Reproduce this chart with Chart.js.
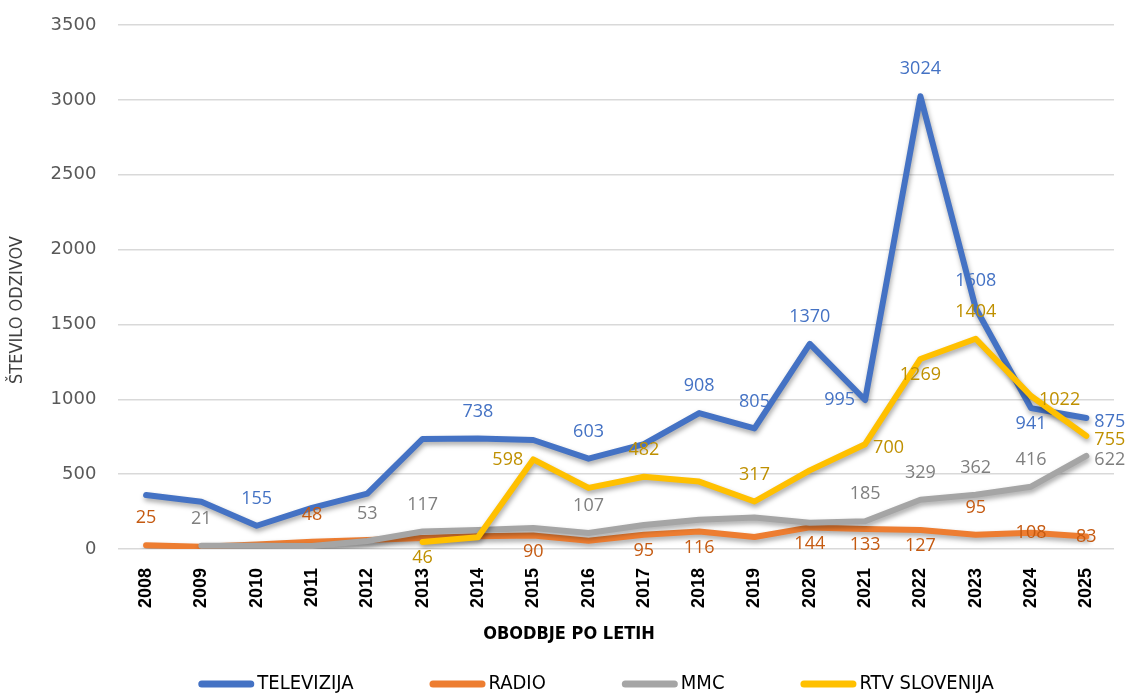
<!DOCTYPE html>
<html>
<head>
<meta charset="utf-8">
<script src="https://cdn.jsdelivr.net/npm/chart.js@4.4.1/dist/chart.umd.min.js"></script>
<style>
  html, body { margin: 0; padding: 0; background: #fff; }
  #wrap { width: 1132px; height: 693px; position: relative; }
</style>
</head>
<body>
<div id="wrap"><canvas id="graf"></canvas></div>
<script>
// ===== Podatki =====
const leta = ['2008','2009','2010','2011','2012','2013','2014','2015','2016','2017','2018','2019','2020','2021','2022','2023','2024','2025'];
const televizija = [360, 315, 155, 275, 370, 735, 738, 728, 603, 700, 908, 805, 1370, 995, 3024, 1608, 941, 875];
const radio      = [25, 15, 30, 48, 60, 74, 85, 90, 55, 95, 116, 80, 144, 133, 127, 95, 108, 83];
const mmc        = [null, 21, 22, 20, 53, 117, 127, 140, 107, 160, 195, 210, 175, 185, 329, 362, 416, 622];
const rtv        = [null, null, null, null, null, 46, 78, 598, 408, 482, 450, 317, 525, 700, 1269, 1404, 1022, 755];
const yTicks     = [0, 500, 1000, 1500, 2000, 2500, 3000, 3500];
const naslovX = 'OBODBJE PO LETIH';
const naslovY = 'ŠTEVILO ODZIVOV';

// kje stoji oznaka vrednosti: a = nad, b = pod, l = levo, r = desno, c = na točki, '' = brez
const posTV  = ['', '', 'a', '', '', '', 'a', '', 'a', '', 'a', 'a', 'a', 'l', 'a', 'a', 'b', 'r'];
const posRad = ['a', '', '', 'a', '', '', '', 'b', '', 'b', 'b', '', 'b', 'b', 'b', 'a', 'c', 'c'];
const posMMC = ['', 'a', '', '', 'a', 'a', '', '', 'a', '', '', '', '', 'a', 'a', 'a', 'a', 'r'];
const posRTV = ['', '', '', '', '', 'b', '', 'l', '', 'a', '', 'a', '', 'r', 'b', 'a', 'r', 'r'];

const NARROW = "'Liberation Sans Narrow', 'DejaVu Sans Condensed', sans-serif";
const SANS = "'Open Sans', 'Noto Sans', sans-serif";

// senca pod črtami
const senca = {
  id: 'senca',
  beforeDatasetDraw(chart) {
    const c = chart.ctx;
    c.save();
    c.shadowColor = 'rgba(0,0,0,0.35)';
    c.shadowBlur = 5;
    c.shadowOffsetX = 1;
    c.shadowOffsetY = 3;
  },
  afterDatasetDraw(chart) { chart.ctx.restore(); }
};

// oznake vrednosti
const oznake = {
  id: 'oznake',
  afterDatasetsDraw(chart) {
    const c = chart.ctx;
    c.save();
    c.font = '18px ' + SANS;
    chart.data.datasets.forEach((ds, di) => {
      const meta = chart.getDatasetMeta(di);
      ds.labelPos.forEach((p, i) => {
        if (!p || ds.data[i] == null) return;
        const pt = meta.data[i];
        let x = pt.x, y = pt.y;
        c.fillStyle = ds.labelColor;
        c.textBaseline = 'middle';
        c.textAlign = 'center';
        if (p === 'a') y -= 27;
        else if (p === 'b') y += 16;
        else if (p === 'l') { c.textAlign = 'right'; x -= 10; }
        else if (p === 'r') { c.textAlign = 'left'; x += 8; y += 4; }
        c.fillText(String(ds.data[i]), x, y);
      });
    });
    c.restore();
  }
};

// naslova osi + legenda spodaj (črta + besedilo)
const legenda = {
  id: 'legenda',
  afterDraw(chart) {
    const c = chart.ctx;
    const ds = chart.data.datasets;
    c.save();
    c.textBaseline = 'middle';
    c.textAlign = 'center';

    c.fillStyle = '#000';
    c.font = 'bold 18px ' + NARROW;
    c.fillText(naslovX, 569, 634);

    c.save();
    c.translate(17, 310);
    c.rotate(-Math.PI / 2);
    c.fillStyle = '#404040';
    c.font = '18px ' + NARROW;
    c.fillText(naslovY, 0, 0);
    c.restore();

    c.font = '20px ' + NARROW;
    const w = ds.map(d => 56 + 3 + c.measureText(d.label).width);
    const gap = 76;
    const total = w.reduce((a, b) => a + b, 0) + gap * (ds.length - 1);
    let x = chart.width / 2 + 30 - total / 2;
    const y = 684;
    ds.forEach((d, i) => {
      c.strokeStyle = d.borderColor;
      c.lineWidth = 7;
      c.lineCap = 'round';
      c.beginPath();
      c.moveTo(x + 3.5, y);
      c.lineTo(x + 52.5, y);
      c.stroke();
      c.fillStyle = '#000';
      c.textAlign = 'left';
      c.fillText(d.label, x + 59, y);
      x += w[i] + gap;
    });
    c.restore();
  }
};

function serija(label, data, barva, barvaOzn, pos, red) {
  return {
    label, data,
    borderColor: barva, backgroundColor: barva,
    borderWidth: 6, borderCapStyle: 'round', borderJoinStyle: 'round',
    pointRadius: 0, pointHoverRadius: 0, tension: 0,
    labelColor: barvaOzn, labelPos: pos, order: red
  };
}

new Chart(document.getElementById('graf'), {
  type: 'line',
  data: {
    labels: leta,
    datasets: [
      serija('TELEVIZIJA', televizija, '#4472C4', '#4472C4', posTV, 4),
      serija('RADIO', radio, '#ED7D31', '#C55A11', posRad, 3),
      serija('MMC', mmc, '#A5A5A5', '#7F7F7F', posMMC, 2),
      serija('RTV SLOVENIJA', rtv, '#FFC000', '#BF9000', posRTV, 1)
    ]
  },
  options: {
    responsive: true,
    maintainAspectRatio: false,
    animation: false,
    // prostor za naslova osi in legendo, ki ju riše vtičnik
    layout: { padding: { top: 25, right: 18, left: 48.6, bottom: 66 } },
    plugins: {
      tooltip: { enabled: false },
      legend: { display: false }
    },
    scales: {
      x: {
        offset: true,
        grid: { display: false, drawTicks: false },
        border: { display: false },
        ticks: { minRotation: 90, maxRotation: 90, padding: 19, color: '#000', font: { family: "'Liberation Sans', Arial, sans-serif", size: 18, weight: 'bold' } }
      },
      y: {
        min: 0, max: 3500,
        afterBuildTicks: ax => { ax.ticks = yTicks.map(v => ({ value: v })); },
        grid: { color: '#D9D9D9', lineWidth: 1.5, drawTicks: true, tickLength: 20, tickColor: 'rgba(0,0,0,0)' },
        border: { display: false },
        ticks: { padding: 2, color: '#595959', font: { family: "'DejaVu Sans', sans-serif", size: 18 }, callback: v => String(v) }
      }
    }
  },
  plugins: [senca, oznake, legenda]
});
</script>
</body>
</html>
